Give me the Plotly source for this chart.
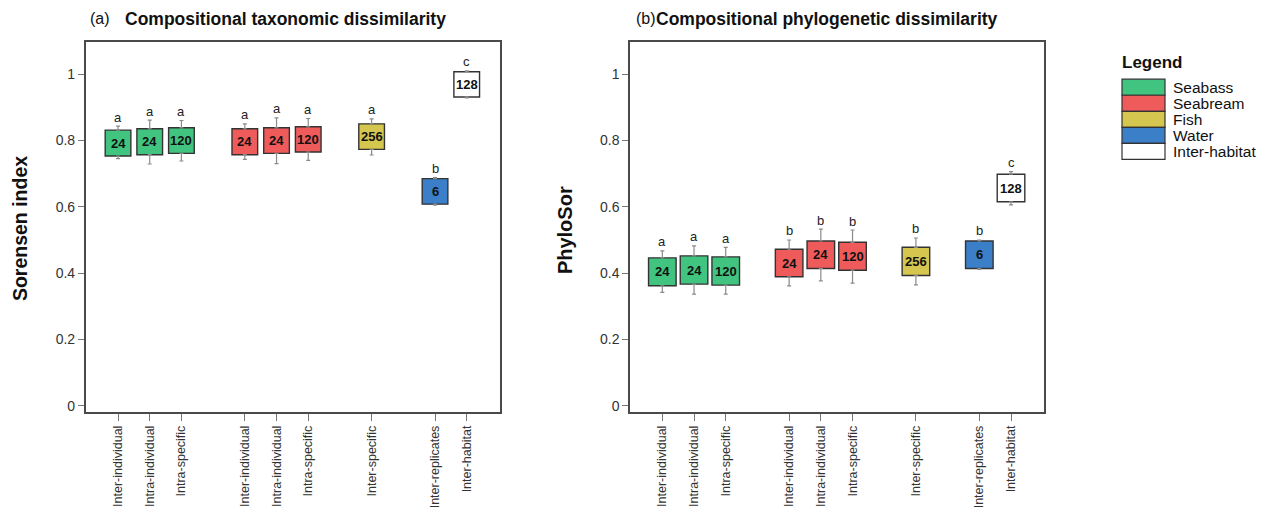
import plotly.graph_objects as go

# ---------------- data ----------------
categories = ["Inter-individual", "Intra-individual", "Intra-specific",
              "Inter-individual", "Intra-individual", "Intra-specific",
              "Inter-specific", "Inter-replicates", "Inter-habitat"]
groups = ["Seabass", "Seabass", "Seabass",
          "Seabream", "Seabream", "Seabream",
          "Fish", "Water", "Inter-habitat"]
positions = [1, 2, 3, 5, 6, 7, 9, 11, 12]
n_pairs = [24, 24, 120, 24, 24, 120, 256, 6, 128]

# (a) Sorensen index
sor_q1 = [0.753, 0.757, 0.761, 0.757, 0.761, 0.765, 0.773, 0.608, 0.931]
sor_q3 = [0.831, 0.835, 0.838, 0.835, 0.838, 0.841, 0.850, 0.685, 1.007]
sor_lo = [0.745, 0.729, 0.738, 0.743, 0.730, 0.740, 0.756, 0.605, 0.928]
sor_hi = [0.843, 0.861, 0.860, 0.850, 0.868, 0.866, 0.865, 0.688, 1.010]
sor_letters = ["a", "a", "a", "a", "a", "a", "a", "b", "c"]

# (b) PhyloSor
phy_q1 = [0.362, 0.367, 0.364, 0.389, 0.414, 0.409, 0.393, 0.414, 0.615]
phy_q3 = [0.446, 0.452, 0.449, 0.472, 0.497, 0.493, 0.478, 0.497, 0.698]
phy_lo = [0.342, 0.337, 0.337, 0.362, 0.377, 0.370, 0.365, 0.411, 0.606]
phy_hi = [0.467, 0.482, 0.478, 0.500, 0.533, 0.530, 0.506, 0.500, 0.706]
phy_letters = ["a", "a", "a", "b", "b", "b", "b", "b", "c"]

legend_names = ["Seabass", "Seabream", "Fish", "Water", "Inter-habitat"]
colors = {"Seabass": "#41C47F", "Seabream": "#EF5B5B", "Fish": "#D4C64F",
          "Water": "#3B7FC9", "Inter-habitat": "#FFFFFF"}

y_ticks = [0, 0.2, 0.4, 0.6, 0.8, 1]
y_ticktext = ["0", "0.2", "0.4", "0.6", "0.8", "1"]

FONT = "Liberation Sans, Arial, Helvetica, sans-serif"
FRAME = "#4a4a4a"
OFF = 8                      # page body margin
FW, FH = 1267 - 2 * OFF, 519 - 2 * OFF


def px_x(x):
    return (x - OFF) / FW


def px_y(y):
    return 1 - (y - OFF) / FH


fig = go.Figure()


def add_panel(q1, q3, lo, hi, letters, xa, ya, width):
    fills = [colors[g] for g in groups]
    # box bodies (interquartile range)
    fig.add_trace(go.Bar(
        x=positions, base=q1, y=[b - a for a, b in zip(q1, q3)],
        width=[width] * len(positions),
        marker=dict(color=fills, line=dict(color="#333333", width=1.4)),
        xaxis=xa, yaxis=ya, showlegend=False, hoverinfo="skip"))
    # upper whiskers
    fig.add_trace(go.Scatter(
        x=positions, y=q3, mode="markers",
        marker=dict(size=1, opacity=0),
        error_y=dict(type="data", symmetric=False,
                     array=[h - b for h, b in zip(hi, q3)],
                     arrayminus=[0] * len(positions),
                     color="#8a8a8a", thickness=1.2, width=2),
        xaxis=xa, yaxis=ya, showlegend=False, hoverinfo="skip"))
    # lower whiskers
    fig.add_trace(go.Scatter(
        x=positions, y=q1, mode="markers",
        marker=dict(size=1, opacity=0),
        error_y=dict(type="data", symmetric=False,
                     array=[0] * len(positions),
                     arrayminus=[a - l for a, l in zip(q1, lo)],
                     color="#8a8a8a", thickness=1.2, width=2),
        xaxis=xa, yaxis=ya, showlegend=False, hoverinfo="skip"))
    for i, pos in enumerate(positions):
        fig.add_annotation(x=pos, y=(q1[i] + q3[i]) / 2, xref=xa, yref=ya,
                           text="<b>%d</b>" % n_pairs[i], showarrow=False,
                           font=dict(family=FONT, size=13, color="#111111"))
        fig.add_annotation(x=pos, y=hi[i], xref=xa, yref=ya, text=letters[i],
                           showarrow=False, yanchor="middle", yshift=9,
                           font=dict(family=FONT, size=13, color="#222222"))


add_panel(sor_q1, sor_q3, sor_lo, sor_hi, sor_letters, "x", "y", 0.81)
add_panel(phy_q1, phy_q3, phy_lo, phy_hi, phy_letters, "x2", "y2", 0.87)

xdom1 = [px_x(85.7), px_x(500)]
xdom2 = [px_x(630), px_x(1044.3)]
ydom = [px_y(413.5), px_y(42)]

xcommon = dict(tickvals=positions, ticktext=categories, tickangle=-90,
               range=[-0.02, 13.05], showgrid=False, zeroline=False,
               showline=True, mirror=True, linecolor=FRAME, linewidth=1.5,
               ticks="outside", ticklen=7, tickcolor="#777777", tickwidth=1,
               tickfont=dict(family=FONT, size=12.5, color="#333333"))
ycommon = dict(tickvals=y_ticks, ticktext=y_ticktext, range=[-0.018, 1.097],
               showgrid=False, zeroline=False, showline=True, mirror=True,
               linecolor=FRAME, linewidth=1.5, ticks="outside", ticklen=6,
               tickcolor="#777777", tickwidth=1,
               tickfont=dict(family=FONT, size=14, color="#333333"))

fig.update_layout(
    width=FW, height=FH, margin=dict(l=0, r=0, t=0, b=0),
    paper_bgcolor="white", plot_bgcolor="white",
    barmode="overlay", showlegend=False,
    xaxis=dict(domain=xdom1, anchor="y", **xcommon),
    yaxis=dict(domain=ydom, anchor="x", **ycommon),
    xaxis2=dict(domain=xdom2, anchor="y2", **xcommon),
    yaxis2=dict(domain=ydom, anchor="x2", **ycommon),
)


def paper_text(x, y, text, size, bold=False, angle=0, anchor="left"):
    fig.add_annotation(x=px_x(x), y=px_y(y), xref="paper", yref="paper",
                       text=("<b>%s</b>" % text) if bold else text,
                       showarrow=False, xanchor=anchor, yanchor="middle",
                       textangle=angle,
                       font=dict(family=FONT, size=size, color="#111111"))


# titles
paper_text(88, 19, "(a)", 16)
paper_text(123, 19, "Compositional taxonomic dissimilarity", 17.5, bold=True)
paper_text(634, 19, "(b)", 16)
paper_text(654, 19, "Compositional phylogenetic dissimilarity", 17.5, bold=True)
paper_text(20, 230, "Sorensen index", 19.5, bold=True, angle=-90, anchor="center")
paper_text(565, 231, "PhyloSor", 20, bold=True, angle=-90, anchor="center")

# legend (key rectangles)
paper_text(1120, 63, "Legend", 17, bold=True)
row_top, row_h = 79.5, 16.1
for k, name in enumerate(legend_names):
    y0 = row_top + k * row_h
    fig.add_shape(type="rect", xref="paper", yref="paper",
                  x0=px_x(1122), x1=px_x(1165),
                  y0=px_y(y0 + row_h), y1=px_y(y0),
                  fillcolor=colors[name], line=dict(color="#333333", width=1.2))
    paper_text(1171, y0 + row_h / 2, name, 15.5)

fig.write_html("out.html")
